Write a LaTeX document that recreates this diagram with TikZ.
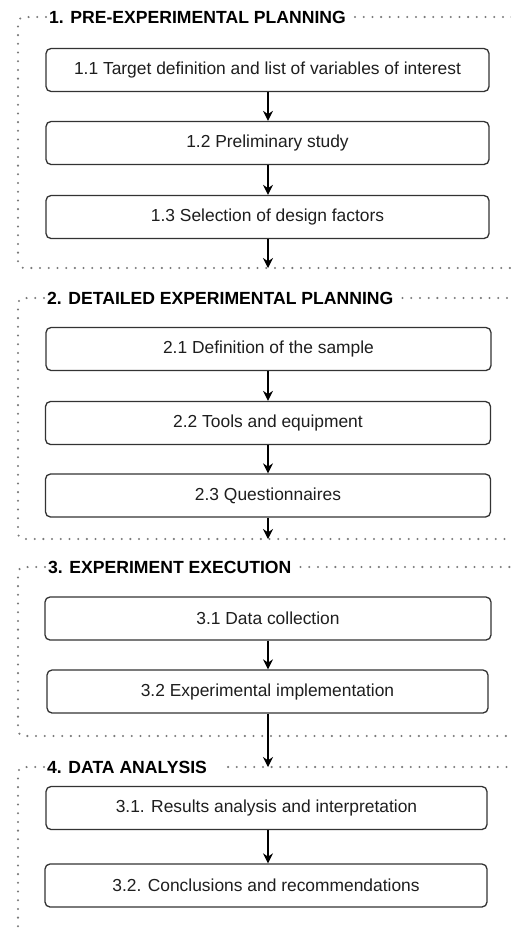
\documentclass[tikz,border=0pt]{standalone}
\usepackage{fontspec}
\setmainfont{Liberation Sans}
\usetikzlibrary{arrows.meta}
\definecolor{boxline}{HTML}{333333}
\definecolor{dotgray}{HTML}{7A7A7A}
\definecolor{txt}{HTML}{1E1E1E}
\begin{document}
\begin{tikzpicture}[x=1pt,y=-1pt,
  stepbox/.style={draw=boxline, line width=1.3pt, rounded corners=5pt, fill=white,
    text=txt, font=\fontsize{17.4}{20}\selectfont, inner sep=0pt, minimum height=43pt},
  grouptitle/.style={font=\bfseries\fontsize{17.6}{20}\selectfont, anchor=west,
    inner xsep=3pt, inner ysep=0pt},
  frame/.style={draw=dotgray, line width=2.3pt, dash pattern=on 0pt off 8.7pt,
    line cap=round, rounded corners=6pt},
  flow/.style={draw=black, line width=1.3pt, -{Stealth[length=10pt,width=10pt]}}]
\useasboundingbox (0,0) rectangle (511,932);
\coordinate (col) at (268,0);

% ---------- group 1 ----------
\node[grouptitle] (t1) at (46,17) {1. PRE-EXPERIMENTAL PLANNING};
\draw[frame] (t1.west) -- (18,17) -- (18,268) -- (520,268);
\draw[frame] (t1.east) ++(6,0) -- (520,17);
\node[stepbox, minimum width=443pt] (b11) at (267.5,70) {1.1 Target definition and list of variables of interest};
\node[stepbox, minimum width=443pt] (b12) at (267.5,143) {1.2 Preliminary study};
\node[stepbox, minimum width=443pt] (b13) at (267.5,217) {1.3 Selection of design factors};
\coordinate (g1b) at (268,268);

% ---------- group 2 ----------
\node[grouptitle] (t2) at (44,298) {2. DETAILED EXPERIMENTAL PLANNING};
\draw[frame] (t2.west) -- (18,298) -- (18,539) -- (520,539);
\draw[frame] (t2.east) ++(6,0) -- (520,298);
\node[stepbox, minimum width=445pt] (b21) at (268.5,349) {2.1 Definition of the sample};
\node[stepbox, minimum width=445pt] (b22) at (268,423) {2.2 Tools and equipment};
\node[stepbox, minimum width=445pt] (b23) at (268,495.5) {2.3 Questionnaires};
\coordinate (g2b) at (268,539);

% ---------- group 3 ----------
\node[grouptitle] (t3) at (45,567) {3. EXPERIMENT EXECUTION};
\draw[frame] (t3.west) -- (18,567) -- (18,736) -- (520,736);
\draw[frame] (t3.east) ++(6,0) -- (520,567);
\node[stepbox, minimum width=446pt] (b31) at (268,618.5) {3.1 Data collection};
\node[stepbox, minimum width=441pt] (b32) at (267.5,691.5) {3.2 Experimental implementation};

% ---------- group 4 ----------
\node[grouptitle] (t4) at (44,767) {4. DATA ANALYSIS};
\draw[frame] (t4.west) -- (18,767) -- (18,945);
\draw[frame] (t4.east) ++(18,0) -- (520,767);
\coordinate (g4t) at (268,767);
\node[stepbox, minimum width=441pt] (b41) at (266.5,808) {3.1. Results analysis and interpretation};
\node[stepbox, minimum width=442pt] (b42) at (266,885.5) {3.2. Conclusions and recommendations};

% ---------- connectors (all on one vertical axis) ----------
\draw[flow] (b11.south -| col) -- (b12.north -| col);
\draw[flow] (b12.south -| col) -- (b13.north -| col);
\draw[flow] (b13.south -| col) -- (g1b);
\draw[flow] (b21.south -| col) -- (b22.north -| col);
\draw[flow] (b22.south -| col) -- (b23.north -| col);
\draw[flow] (b23.south -| col) -- (g2b);
\draw[flow] (b31.south -| col) -- (b32.north -| col);
\draw[flow] (b32.south -| col) -- (g4t);
\draw[flow] (b41.south -| col) -- (b42.north -| col);
\end{tikzpicture}
\end{document}
